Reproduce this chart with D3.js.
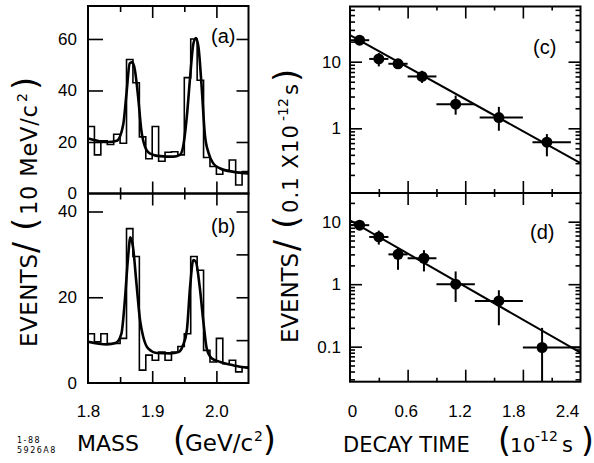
<!DOCTYPE html>
<html>
<head>
<meta charset="utf-8">
<script src="https://cdn.jsdelivr.net/npm/d3@7"></script>
<style>
  body { margin: 0; background: #fff; }
  svg { font-family: "Liberation Sans", Arial, sans-serif; }
</style>
</head>
<body>
<svg id="chart" width="594" height="463"></svg>
<script>
// mass spectra, 10 MeV bins (lower edge, GeV/c^2)
const massBins = [1.80, 1.81, 1.82, 1.83, 1.84, 1.85, 1.86, 1.87, 1.88, 1.89, 1.90, 1.91, 1.92,
                  1.93, 1.94, 1.95, 1.96, 1.97, 1.98, 1.99, 2.00, 2.01, 2.02, 2.03, 2.04];
const massEnd = 2.05;
const histA = [26, 15, 20.5, 19, 23, 19.5, 52, 43, 22, 13.5, 26, 12.5, 16, 16.2, 15, 45, 60, 44, 14, 10.5, 7.5, 9, 13, 3.3, 8.5];
const histB = [11.5, 9.6, 11.5, 9.2, 9.2, 10.4, 36, 29.5, 3, 6.5, 5.3, 7.2, 5.3, 7.2, 8.5, 11.5, 29.5, 26.3, 7.6, 4.9, 10.4, 4.5, 5.3, 2.6, 3.7];

// fitted curves
const fitMassA = [1.800, 1.831, 1.845, 1.855, 1.860, 1.865, 1.869, 1.873, 1.878, 1.883, 1.889, 1.896, 1.912,
                  1.933, 1.943, 1.948, 1.954, 1.959, 1.964, 1.968, 1.972, 1.977, 1.982, 1.988, 1.995, 2.006, 2.027, 2.050];
const fitA = [21.4, 20, 20.5, 27, 39, 50.5, 51, 48, 37.7, 24.7, 18, 15.6, 14.5,
              14.3, 15, 18, 30, 45, 58, 60.4, 57, 41.5, 23, 15.6, 11.7, 9.7, 8.4, 7.8];
const fitMassB = [1.800, 1.829, 1.844, 1.852, 1.857, 1.8625, 1.866, 1.870, 1.8755, 1.881, 1.886, 1.894, 1.907,
                  1.928, 1.941, 1.948, 1.954, 1.959, 1.964, 1.968, 1.974, 1.980, 1.985, 1.993, 2.006, 2.027, 2.050];
const fitB = [9.6, 9.0, 9.4, 11.5, 18.5, 29.5, 34, 31.8, 23.2, 14.7, 10.8, 8, 7.0,
              6.9, 7.2, 8.8, 12.3, 22.4, 28.7, 28.3, 22.4, 13.9, 8, 5.7, 4.9, 4.1, 3.5];

// decay time distributions (10^-12 s)
const timeC = [0.1, 0.3, 0.5, 0.75, 1.1, 1.55, 2.05];
const timeLoC = [0, 0.2, 0.4, 0.6, 0.9, 1.35, 1.9];
const timeHiC = [0.2, 0.4, 0.6, 0.9, 1.3, 1.8, 2.3];
const eventsC = [21, 11, 9.3, 6.0, 2.3, 1.45, 0.62];
const eventsLoC = [18.5, 8.5, 8, 4.8, 1.6, 0.92, 0.38];
const eventsHiC = [23.5, 13.5, 11, 7.3, 3.1, 2.1, 0.82];
const fitTimeC = [0, 2.4];
const fitEventsC = [25, 0.30];

const timeD = [0.1, 0.3, 0.5, 0.77, 1.1, 1.55, 2.0];
const timeLoD = [0, 0.2, 0.4, 0.6, 0.9, 1.3, 1.8];
const timeHiD = [0.2, 0.4, 0.6, 0.9, 1.3, 1.8, 2.4];
const eventsD = [8.8, 5.7, 3.0, 2.6, 1.0, 0.54, 0.097];
const eventsLoD = [7.5, 4.3, 1.7, 1.6, 0.52, 0.22, 0.02];
const eventsHiD = [10, 7.2, 3.8, 3.5, 1.6, 0.8, 0.2];
const fitTimeD = [0, 2.4];
const fitEventsD = [10.5, 0.08];

// tick labels
const massTickLabels = [1.8, 1.9, 2.0];
const timeTickLabels = [0, 0.6, 1.2, 1.8, 2.4];
const yLabelsA = [0, 20, 40, 60];
const yLabelsB = [0, 20, 40];
const yLabelsC = [1, 10];
const yLabelsD = [0.1, 1, 10];

const svg = d3.select("#chart");

const massX = d3.scaleLinear().domain([1.8, 2.05]).range([88, 248.5]);
const yA = d3.scaleLinear().domain([0, 72.8]).range([193.5, 6]);
const yB = d3.scaleLinear().domain([0, 44.2]).range([383, 193.5]);
const timeX = d3.scaleLinear().domain([0, 2.4]).range([350, 580.5]);
// the printed time labels sit a bit left of their ticks
const timeLabelX = d3.scaleLinear().domain([0, 2.4]).range([352, 567]);
const yC = d3.scaleLog().domain([0.107, 67.3]).range([193, 6.5]).clamp(true);
const yD = d3.scaleLog().domain([0.0275, 28.8]).range([381.7, 193]).clamp(true);

function tickMarks(axis, x, y, len, values) {
  const g = svg.append("g")
    .attr("transform", `translate(${x},${y})`)
    .call(axis.tickValues(values).tickSize(-len).tickFormat(""));
  g.select(".domain").remove();
  g.selectAll("line").attr("stroke", "#000").attr("stroke-width", 1.6);
}

function tickLabels(axis, x, y, pad, values, fmt) {
  const g = svg.append("g")
    .attr("transform", `translate(${x},${y})`)
    .call(axis.tickValues(values).tickSize(0).tickPadding(pad).tickFormat(fmt));
  g.select(".domain").remove();
  g.attr("font-size", 17).attr("font-family", "Liberation Sans, Arial, sans-serif");
  g.selectAll("text").attr("fill", "#000");
}

function frame(xs, ys) {
  const [x0, x1] = xs.range();
  const [y0, y1] = ys.range();
  svg.append("rect")
    .attr("x", x0).attr("y", Math.min(y0, y1))
    .attr("width", x1 - x0).attr("height", Math.abs(y0 - y1))
    .attr("fill", "none").attr("stroke", "#000").attr("stroke-width", 2);
}

function tag(text, x, y) {
  svg.append("text").attr("x", x).attr("y", y)
    .style("font-size", "20px").text(text);
}

// ---- mass panels ----
function massPanel(y, hist, fitM, fitV, leftTicks, rightTicks, labels, name, tagY) {
  const x0 = massX.range()[0], x1 = massX.range()[1];
  const yTop = y.range()[1], yBot = y.range()[0];

  const pts = massBins.map((m, i) => [m, hist[i]]);
  pts.push([massEnd, hist[hist.length - 1]]);
  svg.append("path")
    .attr("d", d3.line().x(d => massX(d[0])).y(d => y(d[1])).curve(d3.curveStepAfter)(pts))
    .attr("fill", "none").attr("stroke", "#000").attr("stroke-width", 1.6);

  svg.append("path")
    .attr("d", d3.line().x(d => massX(d[0])).y(d => y(d[1])).curve(d3.curveMonotoneX)(fitM.map((m, i) => [m, fitV[i]])))
    .attr("fill", "none").attr("stroke", "#000").attr("stroke-width", 2.6);

  tickMarks(d3.axisLeft(y), x0, 0, 15, leftTicks);
  tickMarks(d3.axisRight(y), x1, 0, 12, rightTicks);
  tickMarks(d3.axisTop(massX), 0, yTop, 12, [1.9, 2.0]);
  tickMarks(d3.axisTop(massX), 0, yTop, 6, [1.85, 1.95]);
  tickMarks(d3.axisBottom(massX), 0, yBot, 12, [1.9, 2.0]);
  tickMarks(d3.axisBottom(massX), 0, yBot, 6, [1.85, 1.95]);

  tickLabels(d3.axisLeft(y), x0, 0, 11, labels, d => d);
  frame(massX, y);
  tag(name, 211, tagY);
}

massPanel(yA, histA, fitMassA, fitA, [20, 40, 60], [20, 40, 60], yLabelsA, "(a)", 43);
massPanel(yB, histB, fitMassB, fitB, [20, 40], [10, 20, 30, 40], yLabelsB, "(b)", 233);
tickLabels(d3.axisBottom(massX), 0, 383, 22, massTickLabels, d3.format(".1f"));

// ---- decay time panels ----
function logTicks(y) {
  const [lo, hi] = y.domain();
  const out = [];
  [0.01, 0.1, 1, 10].forEach(dec => {
    for (let k = 2; k <= 9; k++) {
      const v = dec * k;
      if (v > lo && v < hi) out.push(v);
    }
  });
  return out;
}

function timePanel(y, t, tLo, tHi, ev, evLo, evHi, fitT, fitE, labels, name, tagX, tagY) {
  const x0 = timeX.range()[0], x1 = timeX.range()[1];
  const yTop = y.range()[1], yBot = y.range()[0];

  svg.append("path")
    .attr("d", d3.line().x(d => timeX(d[0])).y(d => y(d[1]))(fitT.map((v, i) => [v, fitE[i]])))
    .attr("fill", "none").attr("stroke", "#000").attr("stroke-width", 2);

  const g = svg.append("g");
  t.forEach((v, i) => {
    g.append("line")
      .attr("x1", timeX(tLo[i])).attr("x2", timeX(tHi[i]))
      .attr("y1", y(ev[i])).attr("y2", y(ev[i]))
      .attr("stroke", "#000").attr("stroke-width", 2);
    g.append("line")
      .attr("x1", timeX(v)).attr("x2", timeX(v))
      .attr("y1", y(evLo[i])).attr("y2", y(evHi[i]))
      .attr("stroke", "#000").attr("stroke-width", 2);
    g.append("circle")
      .attr("cx", timeX(v)).attr("cy", y(ev[i])).attr("r", 5.5)
      .attr("fill", "#000");
  });

  const majors = [0.1, 1, 10].filter(v => v > y.domain()[0] && v < y.domain()[1]);
  tickMarks(d3.axisLeft(y), x0, 0, 12, majors);
  tickMarks(d3.axisLeft(y), x0, 0, 5, logTicks(y));
  tickMarks(d3.axisRight(y), x1, 0, 12, majors);
  tickMarks(d3.axisRight(y), x1, 0, 5, logTicks(y));
  tickMarks(d3.axisTop(timeX), 0, yTop, 12, [0.6, 1.2, 1.8]);
  tickMarks(d3.axisTop(timeX), 0, yTop, 4, [0.3, 0.9, 1.5, 2.1]);
  tickMarks(d3.axisBottom(timeX), 0, yBot, 12, [0.6, 1.2, 1.8]);
  tickMarks(d3.axisBottom(timeX), 0, yBot, 4, [0.3, 0.9, 1.5, 2.1]);

  tickLabels(d3.axisLeft(y), x0, 0, 9, labels, d => d);
  frame(timeX, y);
  tag(name, tagX, tagY);
}

timePanel(yC, timeC, timeLoC, timeHiC, eventsC, eventsLoC, eventsHiC, fitTimeC, fitEventsC, yLabelsC, "(c)", 533, 54);
timePanel(yD, timeD, timeLoD, timeHiD, eventsD, eventsLoD, eventsHiD, fitTimeD, fitEventsD, yLabelsD, "(d)", 530, 239);
tickLabels(d3.axisBottom(timeLabelX), 0, 381.7, 23, timeTickLabels, d => d);

// ---- axis titles ----
// each piece is its own text: [text, offset along the line, raise, font size, fitted length]
function title(x, y, vertical, pieces) {
  pieces.forEach(([s, px, py, size, len]) => {
    const tr = vertical
      ? `translate(${x - py},${y - px}) rotate(-90)`
      : `translate(${x + px},${y - py})`;
    const t = svg.append("text")
      .attr("transform", tr)
      .style("font-family", "DejaVu Sans")
      .style("font-size", size + "px")
      .text(s);
    if (len) t.attr("textLength", len).attr("lengthAdjust", "spacing");
  });
}

title(37, 347, true, [
  ["EVENTS", 0, 0, 23, 93],
  ["/", 94, 0, 33],
  ["(", 116, 0, 34],
  ["10 MeV/c", 132, 0, 22.5, 110],
  ["2", 245, 10, 14],
  [")", 257, 0, 34]
]);

title(298, 343, true, [
  ["EVENTS", 0, 0, 23, 90],
  ["/", 92, 0, 33],
  ["(", 114, 0, 34],
  ["0.1 X10", 130, 0, 21, 88],
  ["-12", 222, 10, 14],
  ["s", 248, 0, 21],
  [")", 261, 0, 34]
]);

title(0, 451, false, [
  ["MASS", 77, 0, 22],
  ["(", 173, 0, 33],
  ["GeV/c", 185, 0, 23],
  ["2", 254, 10, 14],
  [")", 263, 0, 33]
]);

title(0, 452, false, [
  ["DECAY TIME", 343, 0, 21],
  ["(", 498, 0, 33],
  ["10", 510, 0, 20],
  ["-12", 535, 11, 14],
  ["s", 562, 0, 21],
  [")", 581, 0, 33]
]);

// figure code in the corner
svg.append("text").attr("x", 17).attr("y", 443)
  .style("font-family", "DejaVu Sans").style("font-size", "8px").style("letter-spacing", "1.5px")
  .text("1-88");
svg.append("text").attr("x", 17).attr("y", 453)
  .style("font-family", "DejaVu Sans").style("font-size", "8px").style("letter-spacing", "1.5px")
  .text("5926A8");
</script>
</body>
</html>
